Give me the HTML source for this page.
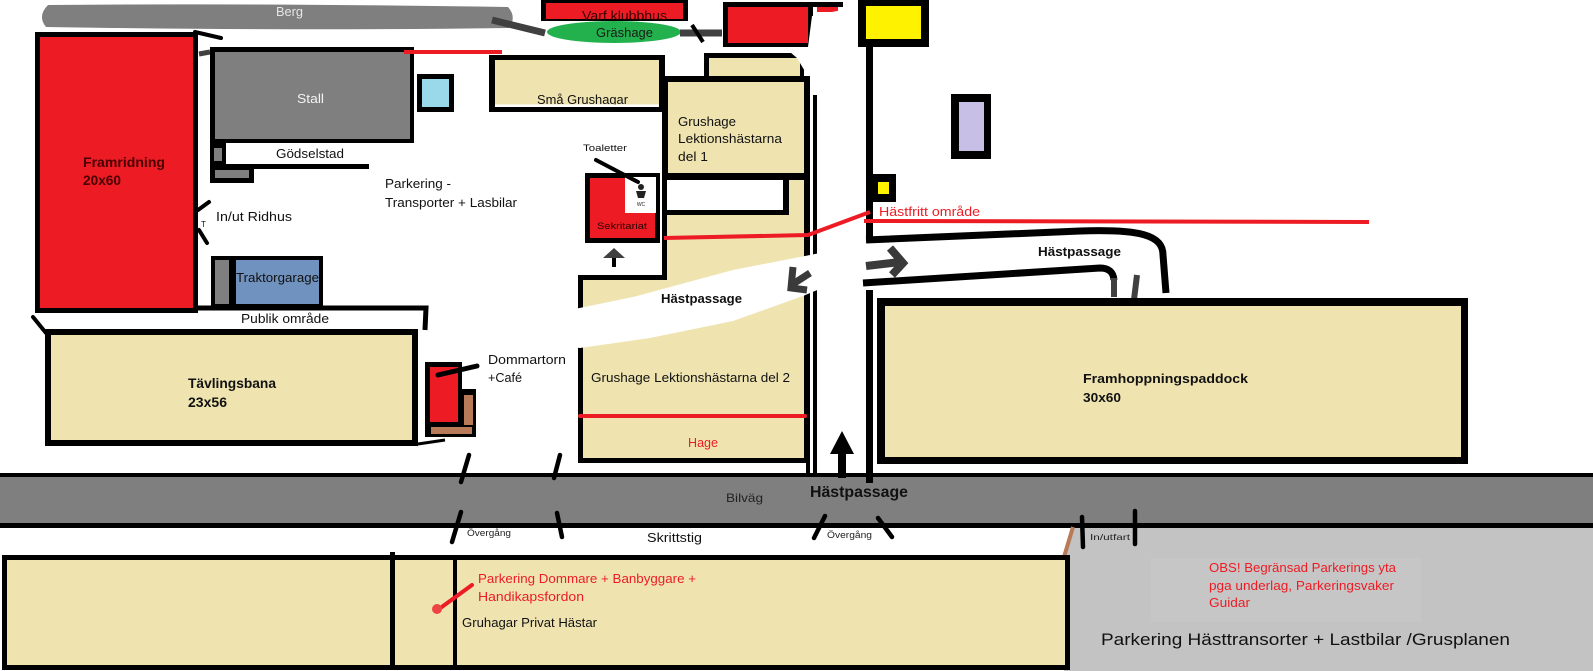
<!DOCTYPE html>
<html><head><meta charset="utf-8"><style>
html,body{margin:0;padding:0;background:#fff;width:1593px;height:671px;overflow:hidden}
svg{display:block}
text{font-family:"Liberation Sans",sans-serif}
</style></head><body>
<svg width="1593" height="671" viewBox="0 0 1593 671" xmlns="http://www.w3.org/2000/svg">
<rect width="1593" height="671" fill="#fff"/>

<!-- Berg band -->
<path d="M48,5 Q250,3 508,7 Q517,17 509,28 Q300,31 46,27 Q37,16 48,5Z" fill="#7f7f7f"/>
<path d="M492,20 L545,33" stroke="#404040" stroke-width="7" fill="none"/>

<!-- Varf klubbhus -->
<rect x="541" y="0" width="147" height="21" fill="#000"/>
<rect x="546" y="3" width="137" height="16" fill="#ed1c24"/>
<text x="582" y="20" font-size="13" fill="#3a0000" textLength="85" lengthAdjust="spacingAndGlyphs">Varf klubbhus</text>
<ellipse cx="614" cy="32" rx="67" ry="11" fill="#22b14c"/>
<text x="596" y="37" font-size="13" fill="#1a1a1a" textLength="57" lengthAdjust="spacingAndGlyphs">Gräshage</text>
<path d="M680,33 L722,33" stroke="#404040" stroke-width="7"/>
<path d="M692,25 L703,42" stroke="#000" stroke-width="4"/>

<!-- red box 2 -->
<rect x="723" y="2" width="90" height="45" fill="#000"/>
<rect x="723" y="2" width="120" height="5" fill="#000"/>
<rect x="728" y="7" width="80" height="36" fill="#ed1c24"/>
<rect x="817" y="7" width="21" height="5" fill="#ed1c24"/>

<!-- yellow box + vertical -->
<rect x="858" y="0" width="71" height="47" fill="#000"/>
<rect x="866" y="6" width="55" height="33" fill="#fff200"/>
<rect x="866" y="45" width="7" height="195" fill="#000"/>
<rect x="866" y="174" width="30" height="28" fill="#000"/>
<rect x="878" y="182" width="11" height="12" fill="#fff200"/>

<!-- lavender -->
<rect x="951" y="94" width="40" height="65" fill="#000"/>
<rect x="959" y="102" width="25" height="49" fill="#c8bfe7"/>

<!-- Framridning -->
<rect x="35" y="32" width="163" height="281" fill="#000"/>
<rect x="40" y="37" width="153" height="271" fill="#ed1c24"/>
<text x="83" y="167" font-size="14" font-weight="bold" fill="#4a0000" textLength="82" lengthAdjust="spacingAndGlyphs">Framridning</text>
<text x="83" y="185" font-size="14" font-weight="bold" fill="#4a0000" textLength="38" lengthAdjust="spacingAndGlyphs">20x60</text>
<path d="M195,32 L221,38" stroke="#000" stroke-width="4" stroke-linecap="round"/>
<path d="M199,54 L210,52" stroke="#404040" stroke-width="5"/>

<!-- Stall -->
<rect x="210" y="47" width="204" height="96" fill="#000"/>
<rect x="215" y="52" width="195" height="87" fill="#7f7f7f"/>
<text x="297" y="103" font-size="13" fill="#f2f2f2" textLength="27" lengthAdjust="spacingAndGlyphs">Stall</text>

<!-- light blue -->
<rect x="417" y="74" width="37" height="38" fill="#000"/>
<rect x="422" y="79" width="27" height="28" fill="#99d9ea"/>

<!-- red line top -->
<path d="M404,52 L502,52" stroke="#ed1c24" stroke-width="4"/>

<!-- Gödselstad -->
<rect x="210" y="143" width="16" height="25" fill="#000"/>
<rect x="214" y="148" width="8" height="13" fill="#7f7f7f"/>
<rect x="210" y="164" width="159" height="5" fill="#000"/>
<rect x="210" y="166" width="44" height="17" fill="#000"/>
<rect x="215" y="170" width="34" height="8" fill="#7f7f7f"/>
<text x="276" y="158" font-size="13" fill="#111" textLength="68" lengthAdjust="spacingAndGlyphs">Gödselstad</text>

<text x="385" y="188" font-size="13" fill="#111" textLength="66" lengthAdjust="spacingAndGlyphs">Parkering -</text>
<text x="385" y="207" font-size="13" fill="#111" textLength="132" lengthAdjust="spacingAndGlyphs">Transporter + Lasbilar</text>

<!-- In/ut -->
<path d="M198,210 L209,202" stroke="#000" stroke-width="4" stroke-linecap="round"/>
<path d="M199,230 L207,243" stroke="#000" stroke-width="4" stroke-linecap="round"/>
<text x="201" y="227" font-size="8" fill="#111">T</text>
<text x="216" y="221" font-size="13" fill="#111" textLength="76" lengthAdjust="spacingAndGlyphs">In/ut Ridhus</text>

<!-- Traktorgarage -->
<rect x="211" y="256" width="112" height="51" fill="#000"/>
<rect x="215" y="260" width="14" height="44" fill="#7f7f7f"/>
<rect x="236" y="260" width="83" height="44" fill="#7092be"/>
<text x="236" y="282" font-size="13" fill="#111" textLength="83" lengthAdjust="spacingAndGlyphs">Traktorgarage</text>

<!-- Publik område -->
<path d="M198,308 L426,308 L425,330" stroke="#000" stroke-width="5" fill="none"/>
<text x="241" y="323" font-size="13" fill="#111" textLength="88" lengthAdjust="spacingAndGlyphs">Publik område</text>
<path d="M33,317 L46,333" stroke="#000" stroke-width="4" stroke-linecap="round"/>

<!-- Tävlingsbana -->
<rect x="45" y="329" width="373" height="117" fill="#000"/>
<rect x="51" y="335" width="361" height="105" fill="#efe4b0"/>
<path d="M418,444 L445,440" stroke="#000" stroke-width="3"/>
<text x="188" y="388" font-size="14" font-weight="bold" fill="#111" textLength="88" lengthAdjust="spacingAndGlyphs">Tävlingsbana</text>
<text x="188" y="407" font-size="14" font-weight="bold" fill="#111" textLength="39" lengthAdjust="spacingAndGlyphs">23x56</text>

<!-- Dommartorn -->
<rect x="425" y="362" width="37" height="75" fill="#000"/>
<rect x="458" y="389" width="18" height="48" fill="#000"/>
<rect x="430" y="367" width="28" height="55" fill="#ed1c24"/>
<rect x="464" y="395" width="9" height="30" fill="#b97a57"/>
<rect x="431" y="427" width="41" height="7" fill="#b97a57"/>
<path d="M438,375 L477,366" stroke="#000" stroke-width="5" stroke-linecap="round"/>
<text x="488" y="364" font-size="13" fill="#111" textLength="78" lengthAdjust="spacingAndGlyphs">Dommartorn</text>
<text x="488" y="382" font-size="13" fill="#111" textLength="34" lengthAdjust="spacingAndGlyphs">+Café</text>

<!-- Små Grushagar -->
<rect x="489" y="55" width="176" height="57" fill="#000"/>
<rect x="495" y="60" width="164" height="47" fill="#efe4b0"/>
<text x="537" y="104" font-size="13" fill="#111" textLength="91" lengthAdjust="spacingAndGlyphs">Små Grushagar</text>
<rect x="495" y="104.5" width="164" height="2.5" fill="#fff"/>

<!-- upper small tan box -->
<rect x="704" y="53" width="100" height="27" fill="#000"/>
<rect x="709" y="58" width="91" height="20" fill="#efe4b0"/>

<!-- Del 1 -->
<rect x="662" y="76" width="148" height="104" fill="#000"/>
<rect x="668" y="82" width="136" height="91" fill="#efe4b0"/>
<text x="678" y="126" font-size="13" fill="#111" textLength="58" lengthAdjust="spacingAndGlyphs">Grushage</text>
<text x="678" y="143" font-size="13" fill="#111" textLength="104" lengthAdjust="spacingAndGlyphs">Lektionshästarna</text>
<text x="678" y="161" font-size="13" fill="#111" textLength="30" lengthAdjust="spacingAndGlyphs">del 1</text>

<!-- Del 2 -->
<path d="M662,173 L810,173 L810,463 L578,463 L578,275 L662,275 Z" fill="#000"/>
<path d="M667,215 L789,215 L789,180 L804,180 L804,458 L583,458 L583,280 L667,280 Z" fill="#efe4b0"/>
<rect x="667" y="180" width="116" height="30" fill="#fff"/>
<rect x="813" y="95" width="4" height="378" fill="#000"/>
<rect x="806" y="460" width="4" height="13" fill="#000"/>
<path d="M580,416 L805,416" stroke="#ed1c24" stroke-width="4" stroke-linecap="round"/>

<!-- white smears -->
<path d="M808,47 L812,16 L842,10 L856,22 L856,100 L818,100 L812,70 Z" fill="#fff"/>
<path d="M790,52 L808,52 L808,76 L803,68 L797,58 Z" fill="#fff"/>
<path d="M560,312 L633,297 L733,270 L800,257 L835,250 L848,262 L822,288 L803,296 L733,321 L650,338 L580,348 L560,346 Z" fill="#fff"/>

<!-- Sekritariat -->
<rect x="585" y="173" width="75" height="70" fill="#000"/>
<rect x="590" y="178" width="65" height="60" fill="#ed1c24"/>
<rect x="625" y="177" width="31" height="36" fill="#fff"/>
<circle cx="641" cy="187" r="3" fill="#222"/>
<path d="M636,191 L646,191 L644,198 L638,198 Z" fill="#222"/>
<text x="641" y="206" font-size="5" fill="#222" text-anchor="middle">WC</text>
<text x="597" y="229" font-size="9" fill="#2a0000" textLength="50" lengthAdjust="spacingAndGlyphs">Sekritariat</text>
<text x="583" y="151" font-size="9" fill="#111" textLength="44" lengthAdjust="spacingAndGlyphs">Toaletter</text>
<path d="M596,160 L638,182" stroke="#000" stroke-width="4" stroke-linecap="round"/>
<!-- up arrow under Sekritariat -->
<rect x="612" y="255" width="4" height="12" fill="#000"/>
<path d="M614,248 L603,258 L625,258 Z" fill="#404040"/>

<!-- red hästfritt lines -->
<path d="M664,238 L808,235 L870,212" stroke="#ed1c24" stroke-width="4" fill="none"/>
<path d="M864,221 L1369,222" stroke="#ed1c24" stroke-width="4"/>
<text x="879" y="216" font-size="13" fill="#ed1c24" textLength="101" lengthAdjust="spacingAndGlyphs">Hästfritt område</text>

<!-- Hästpassage lines right -->
<path d="M866,240 L1080,231 C1140,229 1163,235 1163,255 L1166,293" stroke="#000" stroke-width="7" fill="none"/>
<path d="M863,283 L1100,268 Q1113,268 1114,280" stroke="#000" stroke-width="7" fill="none"/>
<path d="M1114,278 L1114,297" stroke="#404040" stroke-width="6"/>
<path d="M1137,275 L1133,308" stroke="#404040" stroke-width="6"/>
<text x="1038" y="256" font-size="13" font-weight="bold" fill="#111" textLength="83" lengthAdjust="spacingAndGlyphs">Hästpassage</text>
<!-- right arrow -->
<path d="M866,266 L900,262" stroke="#3a3a3a" stroke-width="8"/>
<path d="M890,248 L903,263 L892,275" stroke="#3a3a3a" stroke-width="8" fill="none"/>
<!-- left arrow -->
<path d="M810,273 L793,284" stroke="#3a3a3a" stroke-width="7"/>
<path d="M793,267 L791,288 L807,290" stroke="#3a3a3a" stroke-width="7" fill="none"/>

<!-- middle vertical -->
<rect x="866" y="290" width="7" height="193" fill="#000"/>

<text x="661" y="303" font-size="13" font-weight="bold" fill="#111" textLength="81" lengthAdjust="spacingAndGlyphs">Hästpassage</text>
<text x="591" y="382" font-size="13" fill="#111" textLength="199" lengthAdjust="spacingAndGlyphs">Grushage Lektionshästarna del 2</text>
<text x="688" y="447" font-size="13" fill="#ed1c24" textLength="30" lengthAdjust="spacingAndGlyphs">Hage</text>

<!-- Framhoppningspaddock -->
<rect x="877" y="298" width="591" height="166" fill="#000"/>
<rect x="885" y="306" width="576" height="151" fill="#efe4b0"/>
<text x="1083" y="383" font-size="13" font-weight="bold" fill="#111" textLength="165" lengthAdjust="spacingAndGlyphs">Framhoppningspaddock</text>
<text x="1083" y="402" font-size="13" font-weight="bold" fill="#111" textLength="38" lengthAdjust="spacingAndGlyphs">30x60</text>

<!-- Road -->
<rect x="0" y="473" width="1593" height="55" fill="#000"/>
<rect x="0" y="477" width="1593" height="46" fill="#7f7f7f"/>
<rect x="866" y="473" width="7" height="10" fill="#000"/>
<!-- up arrow road -->
<rect x="838" y="450" width="8" height="28" fill="#000"/>
<path d="M842,431 L830,454 L854,454 Z" fill="#000"/>
<text x="726" y="502" font-size="12" fill="#222" textLength="37" lengthAdjust="spacingAndGlyphs">Bilväg</text>
<text x="810" y="497" font-size="16" font-weight="bold" fill="#111" textLength="98" lengthAdjust="spacingAndGlyphs">Hästpassage</text>

<!-- light gray parking -->
<path d="M1073,528 L1593,528 L1593,671 L1064,671 L1064,557 Z" fill="#c3c3c3"/>
<rect x="1151" y="558" width="270" height="64" fill="#c6c6c6"/>
<path d="M1073,527 L1064,557" stroke="#b97a57" stroke-width="4"/>

<!-- bottom tan -->
<rect x="2" y="555" width="1068" height="115" fill="#000"/>
<rect x="7" y="560" width="1058" height="105" fill="#efe4b0"/>
<rect x="390" y="552" width="5" height="118" fill="#000"/>
<rect x="453" y="555" width="4" height="115" fill="#000"/>

<!-- ticks -->
<g stroke="#000" stroke-width="4.5" stroke-linecap="round">
<path d="M469,455 L461,482"/>
<path d="M461,512 L452,542"/>
<path d="M560,455 L554,478"/>
<path d="M557,513 L562,537"/>
<path d="M825,516 L814,538"/>
<path d="M878,518 L892,537"/>
<path d="M1082,517 L1083,547"/>
<path d="M1135,511 L1135,544"/>
</g>
<text x="467" y="536" font-size="9" fill="#222" textLength="44" lengthAdjust="spacingAndGlyphs">Övergång</text>
<text x="827" y="538" font-size="9" fill="#222" textLength="45" lengthAdjust="spacingAndGlyphs">Övergång</text>
<text x="647" y="542" font-size="13" fill="#111" textLength="55" lengthAdjust="spacingAndGlyphs">Skrittstig</text>
<text x="1090" y="540" font-size="8.5" fill="#222" textLength="40" lengthAdjust="spacingAndGlyphs">In/utfart</text>

<!-- bottom labels -->
<path d="M472,585 L439,609" stroke="#ed1c24" stroke-width="4" stroke-linecap="round"/>
<circle cx="437" cy="609" r="5" fill="#ee4444"/>
<text x="478" y="583" font-size="13" fill="#ed1c24" textLength="218" lengthAdjust="spacingAndGlyphs">Parkering Dommare + Banbyggare +</text>
<text x="478" y="601" font-size="13" fill="#ed1c24" textLength="106" lengthAdjust="spacingAndGlyphs">Handikapsfordon</text>
<text x="462" y="627" font-size="13" fill="#111" textLength="135" lengthAdjust="spacingAndGlyphs">Gruhagar Privat Hästar</text>

<text x="1209" y="572" font-size="13" fill="#ed1c24" textLength="187" lengthAdjust="spacingAndGlyphs">OBS! Begränsad Parkerings yta</text>
<text x="1209" y="590" font-size="13" fill="#ed1c24" textLength="185" lengthAdjust="spacingAndGlyphs">pga underlag, Parkeringsvaker</text>
<text x="1209" y="607" font-size="13" fill="#ed1c24" textLength="41" lengthAdjust="spacingAndGlyphs">Guidar</text>
<text x="1101" y="645" font-size="17" fill="#111" textLength="409" lengthAdjust="spacingAndGlyphs">Parkering Hästtransorter + Lastbilar /Grusplanen</text>

<text x="276" y="16" font-size="13" fill="#e6e6e6" textLength="27" lengthAdjust="spacingAndGlyphs">Berg</text>
</svg>
</body></html>
